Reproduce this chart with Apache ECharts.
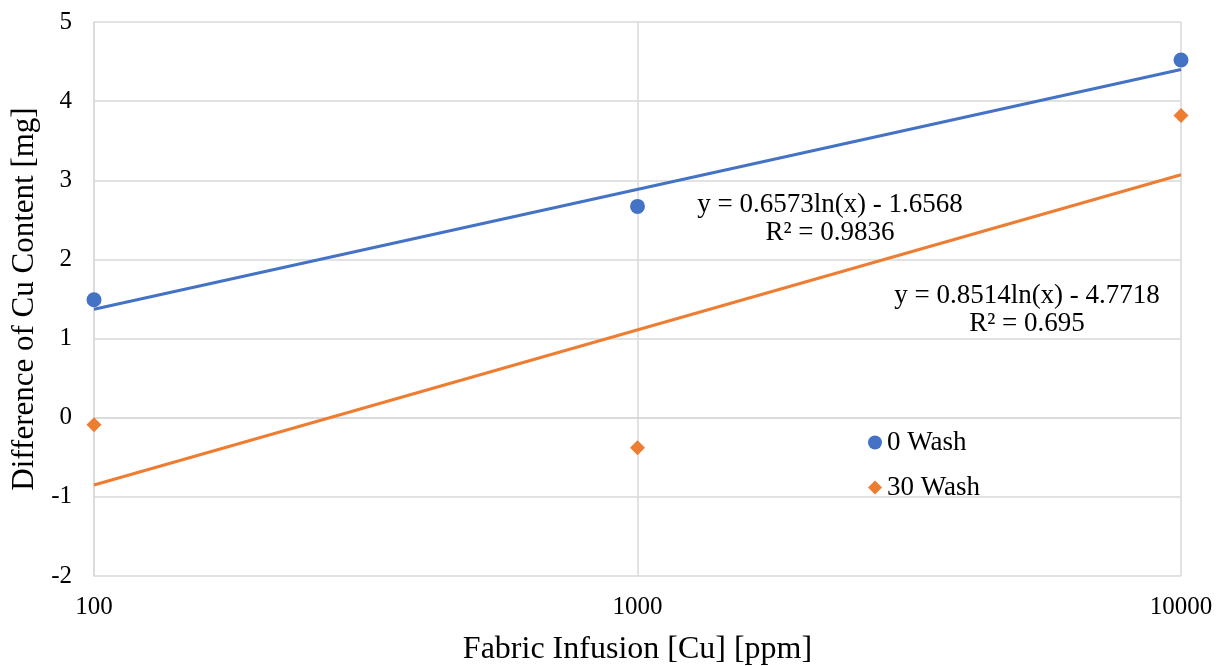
<!DOCTYPE html>
<html>
<head>
<meta charset="utf-8">
<script src="https://cdn.jsdelivr.net/npm/echarts@6/dist/echarts.min.js"></script>
<style>
  html, body { margin: 0; padding: 0; background: #fff; }
  #chart { width: 1219px; height: 666px; }
</style>
</head>
<body>
<div id="chart"></div>
<script>
// measured points
const infusion = [100, 1000, 10000]
const wash0 = [1.49, 2.67, 4.52]
const wash30 = [-0.09, -0.38, 3.82]

// trendline ends (x = 100 and x = 10000)
const trend0 = [1.37, 4.40]
const trend30 = [-0.85, 3.07]
const trendX = [100, 10000]

const eq0 = ['y = 0.6573ln(x) - 1.6568', 'R² = 0.9836']
const eq30 = ['y = 0.8514ln(x) - 4.7718', 'R² = 0.695']

const blue = '#4472C4'
const orange = '#ED7D31'
const font = '"Liberation Serif", "Times New Roman", serif'

const chart = echarts.init(document.getElementById('chart'))

const pairs = (xs, ys) => xs.map((x, i) => [x, ys[i]])

// one centred text element per line of an equation label
const eqText = (lines, cx, cy) => lines.map((t, i) => ({
  type: 'text',
  x: cx,
  y: cy + i * 28,
  z: 10,
  style: {
    text: t,
    align: 'center',
    verticalAlign: 'middle',
    font: '27px ' + font,
    fill: '#000'
  }
}))

const option = {
  animation: false,
  textStyle: { fontFamily: font, color: '#000' },
  grid: { left: 94, right: 38, top: 22, bottom: 90, outerBoundsMode: 'none' },
  legend: {
    orient: 'vertical',
    left: 863,
    top: 424,
    itemGap: 18,
    itemWidth: 14,
    itemHeight: 14,
    data: ['0 Wash', '30 Wash'],
    textStyle: { fontFamily: font, fontSize: 27, color: '#000' }
  },
  xAxis: {
    type: 'log',
    logBase: 10,
    min: 100,
    max: 10000,
    name: 'Fabric Infusion [Cu] [ppm]',
    nameLocation: 'middle',
    nameGap: 58,
    nameTextStyle: { fontFamily: font, fontSize: 32, color: '#000' },
    axisLine: { show: true, lineStyle: { color: '#d9d9d9', width: 1.5 } },
    axisTick: { show: false },
    axisLabel: {
      fontFamily: font, fontSize: 25, color: '#000', margin: 19,
      formatter: v => String(v)
    },
    splitLine: { show: true, lineStyle: { color: '#d9d9d9', width: 1.5 } }
  },
  yAxis: {
    type: 'value',
    min: -2,
    max: 5,
    interval: 1,
    name: 'Difference of Cu Content [mg]',
    nameLocation: 'middle',
    nameGap: 52,
    nameTextStyle: { fontFamily: font, fontSize: 31, color: '#000' },
    axisLine: { show: true, onZero: false, lineStyle: { color: '#d9d9d9', width: 1.5 } },
    axisTick: { show: false },
    axisLabel: { fontFamily: font, fontSize: 25, color: '#000', margin: 22 },
    splitLine: { show: true, lineStyle: { color: '#d9d9d9', width: 1.5 } }
  },
  series: [
    {
      name: '0 Wash trend',
      type: 'line',
      data: pairs(trendX, trend0),
      symbol: 'none',
      silent: true,
      lineStyle: { color: blue, width: 3 },
      z: 2
    },
    {
      name: '30 Wash trend',
      type: 'line',
      data: pairs(trendX, trend30),
      symbol: 'none',
      silent: true,
      lineStyle: { color: orange, width: 3 },
      z: 2
    },
    {
      name: '0 Wash',
      type: 'scatter',
      data: pairs(infusion, wash0),
      symbol: 'circle',
      symbolSize: 15,
      itemStyle: { color: blue, opacity: 1 },
      z: 3
    },
    {
      name: '30 Wash',
      type: 'scatter',
      data: pairs(infusion, wash30),
      symbol: 'diamond',
      symbolSize: [15, 15],
      itemStyle: { color: orange, opacity: 1 },
      z: 3
    }
  ],
  graphic: [
    ...eqText(eq0, 830, 205),
    ...eqText(eq30, 1027, 296)
  ]
}

chart.setOption(option)
</script>
</body>
</html>
